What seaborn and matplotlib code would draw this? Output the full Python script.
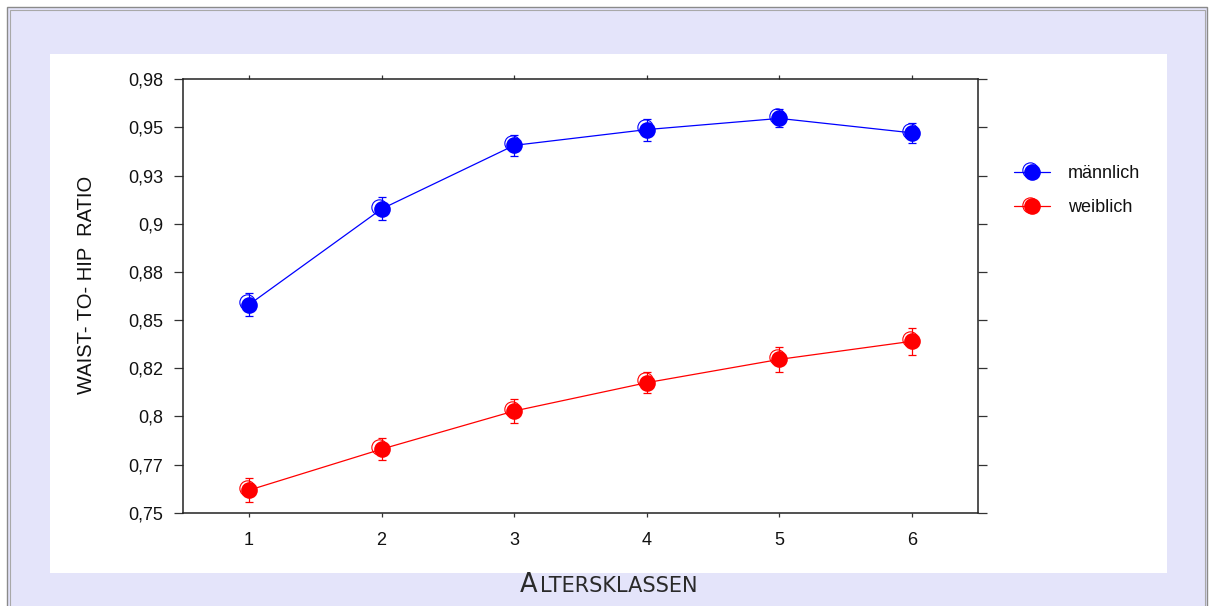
import matplotlib
matplotlib.use("Agg")
import matplotlib.pyplot as plt
import matplotlib.transforms as mtransforms
from matplotlib.patches import Rectangle
from matplotlib.lines import Line2D
from matplotlib.legend_handler import HandlerLine2D, HandlerTuple
from matplotlib.offsetbox import TextArea, HPacker, AnnotationBbox
import numpy as np
import pandas as pd
import seaborn as sns

# Age classes and mean waist-to-hip ratio with error half-widths
age_classes = [1, 2, 3, 4, 5, 6]
male_mean = [0.858, 0.9077, 0.9407, 0.9489, 0.9547, 0.9472]
male_err = [0.006, 0.006, 0.0055, 0.0057, 0.0047, 0.0053]
female_mean = [0.7617, 0.783, 0.8028, 0.8175, 0.8296, 0.839]
female_err = [0.0063, 0.0059, 0.006, 0.0054, 0.0066, 0.0071]

groups = ["männlich", "weiblich"]
colors = {"männlich": "#0000FF", "weiblich": "#FF0000"}

y_ticks = [0.75, 0.775, 0.8, 0.825, 0.85, 0.875, 0.9, 0.925, 0.95, 0.975]
y_tick_labels = ["0,75", "0,77", "0,8", "0,82", "0,85", "0,88", "0,9", "0,93", "0,95", "0,98"]
x_tick_labels = ["1", "2", "3", "4", "5", "6"]
y_label = "WAIST- TO- HIP  RATIO"
x_label = "Altersklassen"

sns.set_theme(style="ticks")
plt.rcParams["font.family"] = ["Liberation Sans", "DejaVu Sans"]

W, H = 1210, 606
fig = plt.figure(figsize=(W / 100, H / 100), dpi=100, facecolor="white")


def fx(px):
    return px / W


def fy(py):
    return 1 - py / H


# Lavender frame with a double grey border, and the white plotting panel
lav = "#E4E4FA"
fig.add_artist(Rectangle((fx(7), fy(612)), fx(1207) - fx(7), fy(7) - fy(612),
                         transform=fig.transFigure, facecolor=lav,
                         edgecolor="#8a8a8a", lw=1.0, zorder=-10))
fig.add_artist(Rectangle((fx(9.5), fy(612)), fx(1204.5) - fx(9.5), fy(9.5) - fy(612),
                         transform=fig.transFigure, facecolor="none",
                         edgecolor="#a8a8a8", lw=0.8, zorder=-9))
fig.add_artist(Rectangle((fx(50), fy(572.5)), fx(1167) - fx(50), fy(53.5) - fy(572.5),
                         transform=fig.transFigure, facecolor="white",
                         edgecolor="none", zorder=-8))

left, right, top, bottom = 182.7, 978.3, 79.3, 512.7
ax = fig.add_axes([fx(left), fy(bottom), fx(right) - fx(left), fy(top) - fy(bottom)])
ax.set_facecolor("none")

df = pd.DataFrame({
    "Altersklasse": age_classes * 2,
    "WHR": male_mean + female_mean,
    "Geschlecht": [groups[0]] * 6 + [groups[1]] * 6,
})

# hollow companion ring drawn slightly up-left of every point
ring_tr = mtransforms.offset_copy(ax.transData, fig=fig, x=-2.2, y=2.2, units="dots")
for g, m in zip(groups, [male_mean, female_mean]):
    ax.plot(age_classes, m, ls="none", marker="o", ms=11, mfc="none",
            mec=colors[g], mew=0.8, transform=ring_tr, zorder=3)

for g, m, e in zip(groups, [male_mean, female_mean], [male_err, female_err]):
    ax.errorbar(age_classes, m, yerr=e, fmt="none", ecolor=colors[g],
                elinewidth=0.9, capsize=3.0, capthick=0.9, zorder=2)

sns.lineplot(data=df, x="Altersklasse", y="WHR", hue="Geschlecht",
             palette=colors, marker="o", markersize=12, markeredgewidth=0,
             linewidth=0.9, legend=False, ax=ax, zorder=4)

ax.set_xlim(0.5, 6.5)
ax.set_ylim(0.75, 0.975)
ax.set_xticks(age_classes)
ax.set_xticklabels(x_tick_labels)
ax.set_yticks(y_ticks)
ax.set_yticklabels(y_tick_labels)
ax.set_xlabel("")
ax.set_ylabel("")

for s in ["left", "right", "top", "bottom"]:
    ax.spines[s].set_visible(True)
    ax.spines[s].set_color("#222222")
    ax.spines[s].set_linewidth(1.1)

ax.tick_params(axis="y", which="major", direction="out", length=6.5, width=0.9,
               color="#333333", left=True, right=True, labelleft=True,
               labelright=False, labelsize=13, pad=7.5, labelcolor="#111111")
ax.tick_params(axis="x", which="major", direction="out", length=3, width=0.9,
               color="#333333", bottom=True, top=True, labelbottom=True,
               labeltop=False, labelsize=13, pad=11, labelcolor="#111111")

# Axis titles
ax.text((87 - left) / (right - left), (bottom - 285) / (bottom - top), y_label,
        rotation=90, ha="center", va="center", fontsize=14.5, color="#111111",
        transform=ax.transAxes)

first = TextArea(x_label[0].upper(),
                 textprops=dict(size=18.5, color="#2a2a2a", family="DejaVu Sans"))
rest = TextArea(x_label[1:].upper(),
                textprops=dict(size=15, color="#2a2a2a", family="DejaVu Sans"))
packed = HPacker(children=[first, rest], align="baseline", pad=0, sep=1.5)
ab = AnnotationBbox(packed, (fx(608.5), fy(598)), xycoords="figure fraction",
                    box_alignment=(0.5, 0.0), frameon=False, pad=0)
fig.add_artist(ab)


# Legend entries: offset ring plus filled marker on a line
class OffsetHandler(HandlerLine2D):
    def __init__(self, dx, dy, **kw):
        super().__init__(**kw)
        self.dx, self.dy = dx, dy

    def create_artists(self, legend, orig_handle, xdescent, ydescent, width,
                       height, fontsize, trans):
        return super().create_artists(legend, orig_handle, xdescent - self.dx,
                                      ydescent - self.dy, width, height,
                                      fontsize, trans)


handles, hmap = [], {}
for g in groups:
    ring = Line2D([], [], ls="none", marker="o", ms=11, mfc="none",
                  mec=colors[g], mew=0.8)
    filled = Line2D([], [], color=colors[g], lw=0.9, marker="o", ms=12, mew=0)
    hmap[ring] = OffsetHandler(-1.8, 1.8)
    handles.append((ring, filled))
hmap[tuple] = HandlerTuple(ndivide=1, pad=0)

fig.legend(handles, groups, handler_map=hmap, loc="center left",
           bbox_to_anchor=(fx(1014), fy(190.5)), bbox_transform=fig.transFigure,
           frameon=False, fontsize=13, handlelength=2.0, handletextpad=1.0,
           labelspacing=0.95, borderpad=0, borderaxespad=0,
           labelcolor="#111111")

fig.savefig("out.png", dpi=100, facecolor="white")
